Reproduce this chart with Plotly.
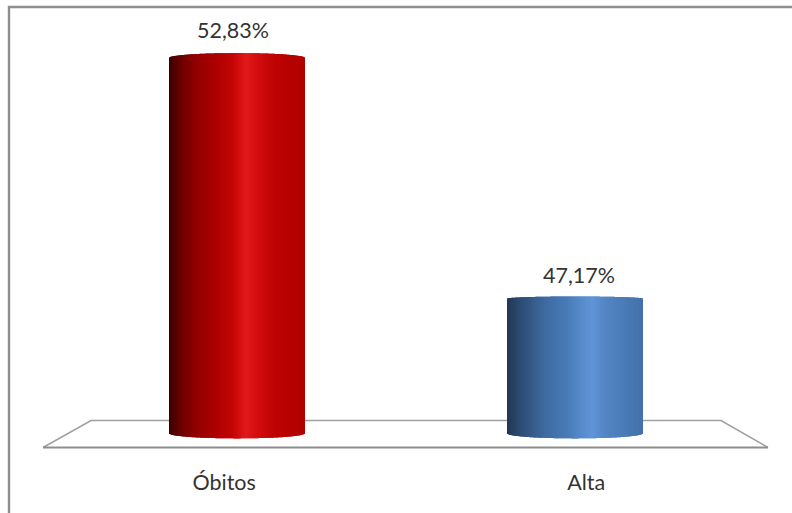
import numpy as np
import plotly.graph_objects as go

# Chart data
categories = ["Óbitos", "Alta"]
percentages = [52.83, 47.17]

# Horizontal placement of the category labels, in axis units
category_label_x = [-0.038, 1.033]

# Canvas and plot-area geometry (pixels)
WIDTH, HEIGHT = 792, 513
MARGIN = dict(l=68, r=48, t=8, b=70.5, pad=0)
Y_BASE = 44
Y_MIN, Y_MAX = 43.8, 54
BAR_WIDTH = 0.4
STRIPS = 135

# Cylinder shading: stops are (fraction across the bar, rgb)
red_stops = [(0, (58, 0, 0)), (0.10, (112, 0, 0)), (0.20, (146, 0, 0)), (0.35, (174, 0, 0)), (0.47, (196, 4, 4)),
             (0.57, (226, 24, 26)), (0.64, (214, 14, 16)), (0.78, (190, 2, 2)), (1, (176, 0, 0))]
blue_stops = [(0, (34, 54, 84)), (0.10, (44, 76, 116)), (0.28, (62, 106, 160)), (0.45, (72, 124, 184)),
              (0.63, (96, 148, 216)), (0.72, (84, 134, 198)), (1, (66, 112, 170))]
bar_stops = [red_stops, blue_stops]

# Ellipse heights of the cylinder ends, in axis units
top_cap = [0.11, 0.05]
bottom_cap = 0.115

# Nudges of the value labels relative to each bar (pixels)
label_shift_y = [28, 24]
label_shift_x = [-4, 4]

GRAY = "#8e8e8e"
LIGHT_GRAY = "#a0a0a0"
TEXT = "#333333"
FONT = "Lato, 'Open Sans', sans-serif"
FONT_SIZE = 21.5


def shade(stops, t):
    pos = [s[0] for s in stops]
    rgb = [np.interp(t, pos, [s[1][i] for s in stops]) for i in range(3)]
    return "rgb({:.0f},{:.0f},{:.0f})".format(*rgb)


plot_w = WIDTH - MARGIN["l"] - MARGIN["r"]
plot_h = HEIGHT - MARGIN["t"] - MARGIN["b"]


def px(x):
    return (x - MARGIN["l"]) / plot_w


def py(y):
    return 1 - (y - MARGIN["t"]) / plot_h


fig = go.Figure()

# Each cylinder is a run of thin bars whose ends follow an ellipse
for i, (name, value) in enumerate(zip(categories, percentages)):
    t = (np.arange(STRIPS) + 0.5) / STRIPS
    xs = i - BAR_WIDTH / 2 + t * BAR_WIDTH
    arc = np.sqrt(np.clip(1 - (2 * t - 1) ** 2, 0, 1))
    tops = value + top_cap[i] * arc
    bases = Y_BASE - bottom_cap * arc
    fig.add_trace(go.Bar(
        x=xs,
        y=tops - bases,
        base=bases,
        width=BAR_WIDTH / STRIPS * 1.4,
        marker=dict(color=[shade(bar_stops[i], v) for v in t], line=dict(width=0)),
        cliponaxis=False,
        name=name,
        showlegend=False,
        hoverinfo="skip",
    ))

# Value labels
for i, value in enumerate(percentages):
    fig.add_annotation(
        x=i, y=value, xshift=label_shift_x[i], yshift=label_shift_y[i], yanchor="middle", showarrow=False,
        text=f"{value:.2f}%".replace(".", ","),
        font=dict(family=FONT, size=FONT_SIZE, color=TEXT),
    )

# Outer frame: open on the right and at the bottom
frame = f"M {px(9)} {py(516)} L {px(9)} {py(7)} L {px(795)} {py(7)}"
fig.add_shape(type="path", path=frame, xref="paper", yref="paper", layer="below",
              line=dict(color=GRAY, width=2.4))

# Chart floor: lighter back and sides, heavier front edge
floor_back = f"M {px(43)} {py(448)} L {px(91)} {py(421)} L {px(721)} {py(421)} L {px(768)} {py(448)}"
fig.add_shape(type="path", path=floor_back, xref="paper", yref="paper", layer="below",
              line=dict(color=LIGHT_GRAY, width=1.6))
floor_front = f"M {px(43)} {py(448)} L {px(768)} {py(448)}"
fig.add_shape(type="path", path=floor_front, xref="paper", yref="paper", layer="below",
              line=dict(color=GRAY, width=2))

fig.update_layout(
    width=WIDTH,
    height=HEIGHT,
    margin=MARGIN,
    paper_bgcolor="white",
    plot_bgcolor="white",
    barmode="overlay",
    showlegend=False,
    font=dict(family=FONT, color=TEXT),
    xaxis=dict(
        range=[-0.5, 1.5],
        tickmode="array",
        tickvals=category_label_x,
        ticktext=categories,
        tickfont=dict(family=FONT, size=FONT_SIZE, color=TEXT),
        ticks="",
        ticklabelstandoff=25,
        showgrid=False,
        zeroline=False,
        showline=False,
    ),
    yaxis=dict(range=[Y_MIN, Y_MAX], visible=False, showgrid=False, zeroline=False),
)

fig.write_html("out.html", config=dict(displayModeBar=False))
